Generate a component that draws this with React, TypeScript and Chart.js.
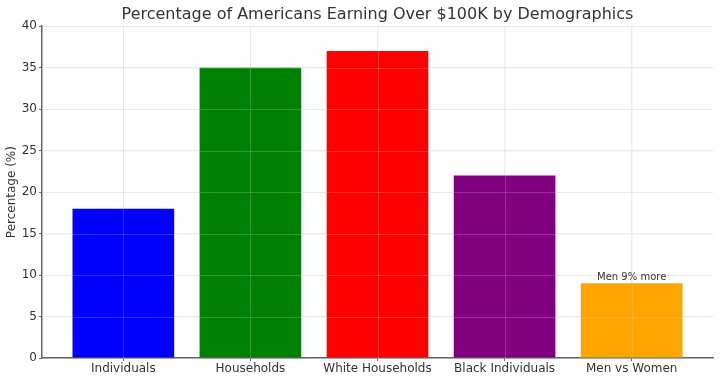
import React, { useEffect, useRef } from "react";
import { Chart, registerables } from "chart.js";

Chart.register(...registerables);

const categories = ["Individuals", "Households", "White Households", "Black Individuals", "Men vs Women"];
const values = [18, 35, 37, 22, 9];
const colors = ["#0000ff", "#008000", "#ff0000", "#800080", "#ffa500"];
const yTicks = [0, 5, 10, 15, 20, 25, 30, 35, 40];
const annotationText = "Men 9% more";
const annotationIndex = 4;

const FONT = "'DejaVu Sans', sans-serif";

export default function App() {
  const ref = useRef<HTMLCanvasElement | null>(null);

  useEffect(() => {
    document.body.style.margin = "0";
    const canvas = ref.current;
    if (!canvas) return;

    const annotate = {
      id: "annotate",
      afterDatasetsDraw(chart: any) {
        const ctx = chart.ctx;
        const area = chart.chartArea;
        const xs = chart.scales.x;
        const ys = chart.scales.y;
        // faint grid drawn over the bars
        ctx.save();
        ctx.strokeStyle = "rgba(220,220,220,0.22)";
        ctx.lineWidth = 1;
        ctx.beginPath();
        categories.forEach((_, i) => {
          const px = Math.round(xs.getPixelForValue(i)) + 0.5;
          ctx.moveTo(px, area.top);
          ctx.lineTo(px, area.bottom);
        });
        yTicks.forEach((v) => {
          if (v === 0) return;
          const py = Math.round(ys.getPixelForValue(v)) + 0.5;
          ctx.moveTo(area.left, py);
          ctx.lineTo(area.right, py);
        });
        ctx.stroke();
        ctx.restore();

        const meta = chart.getDatasetMeta(0);
        const bar = meta.data[annotationIndex];
        if (!bar) return;
        ctx.save();
        ctx.font = `10px ${FONT}`;
        ctx.fillStyle = "#333";
        ctx.textAlign = "center";
        ctx.textBaseline = "bottom";
        ctx.fillText(annotationText, bar.x, bar.y - 1);
        ctx.restore();
      },
    };

    const chart = new Chart(canvas, {
      type: "bar",
      data: {
        datasets: [
          {
            data: categories.map((_, i) => ({ x: i, y: values[i] })),
            backgroundColor: colors,
            borderWidth: 0,
            categoryPercentage: 0.8,
            barPercentage: 1,
          },
        ],
      },
      plugins: [annotate],
      options: {
        animation: false,
        responsive: false,
        layout: { padding: { left: 0, right: 7, top: 0, bottom: 0 } },
        plugins: {
          legend: { display: false },
          tooltip: { enabled: false },
          title: {
            display: true,
            text: "Percentage of Americans Earning Over $100K by Demographics",
            fullSize: false,
            color: "#333",
            font: { family: FONT, size: 16, weight: "normal" },
            padding: { top: 5, bottom: 2 },
          },
        },
        scales: {
          x: {
            type: "linear",
            min: -0.64,
            max: 4.64,
            offset: false,
            afterBuildTicks(scale: any) {
              scale.ticks = categories.map((_, i) => ({ value: i }));
            },
            afterFit(scale: any) {
              scale.height = 23;
            },
            ticks: {
              callback: (v: any) => categories[Math.round(Number(v))] ?? "",
              color: "#333",
              font: { family: FONT, size: 12 },
              padding: 1,
              maxRotation: 0,
              autoSkip: false,
            },
            grid: {
              offset: false,
              color: "rgba(0,0,0,0.07)",
              drawTicks: true,
              tickLength: 3,
              tickColor: "#666",
            },
            border: { color: "#666", width: 1.5 },
          },
          y: {
            min: 0,
            max: 40,
            afterBuildTicks(scale: any) {
              scale.ticks = yTicks.map((v) => ({ value: v }));
            },
            afterFit(scale: any) {
              scale.width = 42;
            },
            title: {
              display: true,
              text: "Percentage (%)",
              color: "#333",
              font: { family: FONT, size: 12 },
              padding: { top: 5, bottom: 0 },
            },
            ticks: {
              color: "#333",
              font: { family: FONT, size: 12 },
              padding: 2,
            },
            grid: {
              color: "rgba(0,0,0,0.07)",
              tickLength: 3,
              tickColor: "#666",
            },
            border: { color: "#666", width: 1.5 },
          },
        },
      },
    });

    return () => chart.destroy();
  }, []);

  return (
    <div style={{ width: 720, height: 381 }}>
      <canvas ref={ref} width={720} height={381} style={{ display: "block" }} />
    </div>
  );
}
